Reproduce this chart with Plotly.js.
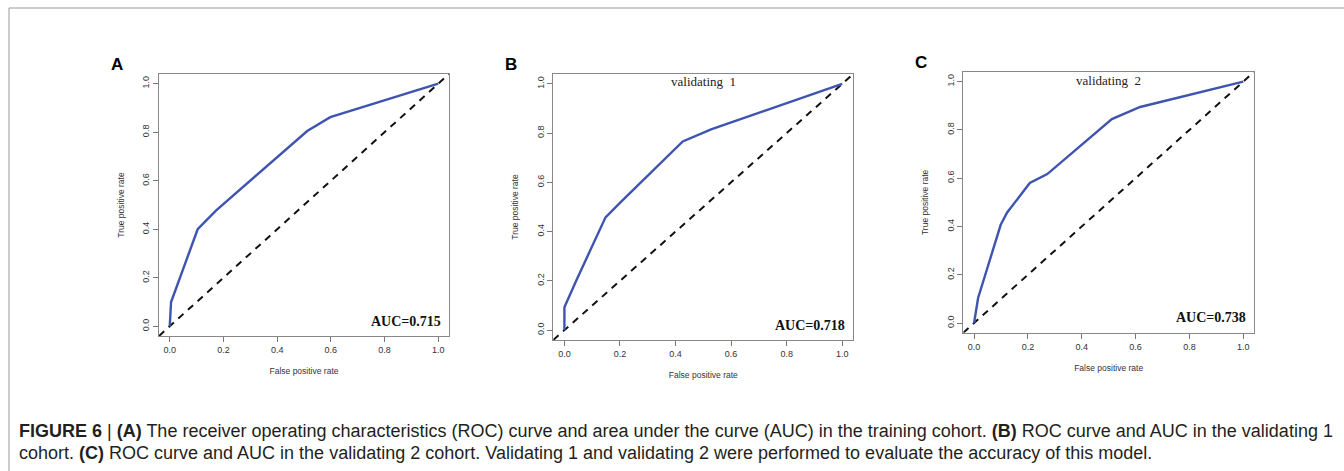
<!DOCTYPE html>
<html>
<head>
<meta charset="utf-8">
<script src="https://cdn.plot.ly/plotly-3.0.1.min.js"></script>
<style>html,body{margin:0;padding:0;background:#fff;}#chart{width:1344px;height:471px;}</style>
</head>
<body>
<div id="chart"></div>
<script>
// ROC curves
const fprA = [0, 0.005, 0.104, 0.172, 0.512, 0.598, 1];
const tprA = [0, 0.10, 0.40, 0.477, 0.805, 0.862, 1];
const fprB = [0, 0, 0.042, 0.056, 0.148, 0.198, 0.426, 0.528, 1];
const tprB = [0, 0.093, 0.20, 0.234, 0.458, 0.515, 0.766, 0.815, 1];
const fprC = [0, 0.015, 0.099, 0.123, 0.207, 0.272, 0.512, 0.617, 1];
const tprC = [0, 0.104, 0.407, 0.458, 0.58, 0.617, 0.845, 0.895, 1];
const panelLetters = ["A", "B", "C"];
const panelTitles = ["", "validating  1", "validating  2"];
const aucLabels = ["AUC=0.715", "AUC=0.718", "AUC=0.738"];
const tickVals = [0, 0.2, 0.4, 0.6, 0.8, 1.0];
const tickText = ["0.0", "0.2", "0.4", "0.6", "0.8", "1.0"];
const axRange = [-0.04, 1.04];

const W = 1344, H = 471;
const boxes = [
  {l:159, r:449, t:74, b:336},
  {l:553.3, r:853.3, t:74, b:340},
  {l:963.3, r:1254, t:72, b:332.7}
];
const curves = [[fprA,tprA],[fprB,tprB],[fprC,tprC]];
const blue = "#3f54b0";
const sans = "Liberation Sans, Arial, sans-serif";
const serif = "Liberation Serif, Times New Roman, serif";
const traces = [];
const layout = {
  width: W, height: H, margin:{l:0,r:0,t:0,b:0},
  paper_bgcolor:"#fff", plot_bgcolor:"#fff", showlegend:false,
  font:{family:sans, color:"#333"},
  annotations:[], shapes:[]
};
boxes.forEach((bx,i)=>{
  const n = i===0 ? "" : String(i+1);
  const xa = "x"+n, ya = "y"+n;
  traces.push({x: axRange, y: axRange, xaxis:xa, yaxis:ya, mode:"lines",
    line:{color:"#111", width:2, dash:"7px,6px"}, hoverinfo:"skip"});
  traces.push({x: curves[i][0], y: curves[i][1], xaxis:xa, yaxis:ya, mode:"lines",
    line:{color:blue, width:2.4}});
  const common = {range:axRange, tickvals:tickVals, ticktext:tickText, ticks:"outside",
    ticklen:5, tickcolor:"#777", tickwidth:1, showgrid:false, zeroline:false,
    showline:true, mirror:true, linecolor:"#888", linewidth:1,
    tickfont:{size:9, color:"#333", family:sans}};
  layout["xaxis"+n] = Object.assign({}, common, {
    domain:[bx.l/W, bx.r/W], anchor:ya,
    title:{text:"False positive rate", font:{size:8.5, color:"#333"}, standoff:14}
  });
  layout["yaxis"+n] = Object.assign({}, common, {
    domain:[1-bx.b/H, 1-bx.t/H], anchor:xa, tickangle:-90,
    title:{text:"True positive rate", font:{size:8.5, color:"#333"}, standoff:15}
  });
  layout.annotations.push({xref:"paper", yref:"paper", x:(bx.l-50)/W, y:1-(bx.t-9)/H,
    text:"<b>"+panelLetters[i]+"</b>", showarrow:false, xanchor:"left", yanchor:"middle",
    font:{size:17, color:"#000", family:sans}});
  if (panelTitles[i]) {
    layout.annotations.push({xref:xa+" domain", yref:ya+" domain", x:0.5, y:1-8/(bx.b-bx.t),
      text:panelTitles[i], showarrow:false, xanchor:"center", yanchor:"middle",
      font:{size:13, color:"#222", family:serif}});
  }
  layout.annotations.push({xref:xa+" domain", yref:ya+" domain", x:1-6/(bx.r-bx.l), y:15/(bx.b-bx.t),
    text:"<b>"+aucLabels[i]+"</b>", showarrow:false, xanchor:"right", yanchor:"middle",
    font:{size:14, color:"#111", family:serif}});
});
// figure frame (top and left rule)
layout.shapes.push({type:"line", xref:"paper", yref:"paper", x0:9/W, x1:1, y0:1-8/H, y1:1-8/H, line:{color:"#999", width:1}});
layout.shapes.push({type:"line", xref:"paper", yref:"paper", x0:9/W, x1:9/W, y0:0, y1:1-8/H, line:{color:"#999", width:1}});
// caption
const cap1 = "<b>FIGURE 6</b> | <b>(A)</b> The receiver operating characteristics (ROC) curve and area under the curve (AUC) in the training cohort. <b>(B)</b> ROC curve and AUC in the validating 1";
const cap2 = "cohort. <b>(C)</b> ROC curve and AUC in the validating 2 cohort. Validating 1 and validating 2 were performed to evaluate the accuracy of this model.";
[[cap1,431],[cap2,453]].forEach(c=>{
  layout.annotations.push({xref:"paper", yref:"paper", x:17/W, y:1-c[1]/H, text:c[0],
    showarrow:false, xanchor:"left", yanchor:"middle",
    font:{size:18, color:"#231f20", family:sans}});
});
Plotly.newPlot("chart", traces, layout, {staticPlot:true, displayModeBar:false});
</script>
</body>
</html>
